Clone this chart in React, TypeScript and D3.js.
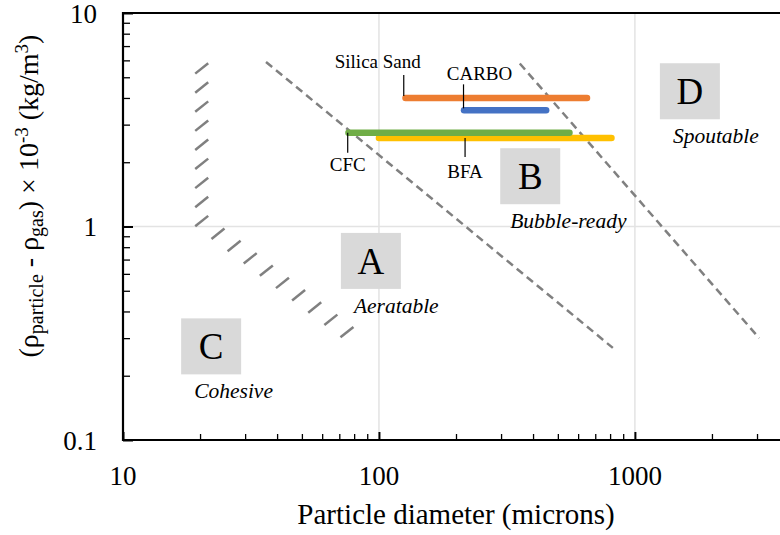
import React, { useRef, useEffect } from "react";
import * as d3 from "d3";

// Geldart-type powder classification map
const xTicks = [10, 100, 1000];
const yTicks = [0.1, 1, 10];

// particle ranges (microns) at a density difference
const materials = ["Silica Sand", "CARBO", "BFA", "CFC"];
const matStart = [127, 215, 100, 76];
const matEnd = [650, 450, 810, 555];
const matDensity = [4.0, 3.5, 2.6, 2.75];
const matColors = ["#ED7D31", "#4472C4", "#FFC000", "#70AD47"];
// where each leader line touches its bar
const matLabelX = [125, 214, 217, 75.5];

// dashed boundaries A/B and B/D
const boundaryAB = [[36.2, 5.9], [820, 0.27]];
const boundaryBD = [[355, 5.8], [3060, 0.3]];
// hatched C/A boundary: two straight runs
const hatchRuns = [
  { from: [20.3, 5.5], to: [20.3, 1.06], count: 9 },
  { from: [23.5, 0.925], to: [75, 0.32], count: 9 },
];

const groups = ["A", "B", "C", "D"];
const groupNames = ["Aeratable", "Bubble-ready", "Cohesive", "Spoutable"];
const groupX = [93, 390, 22.1, 1640];
const groupY = [0.69, 1.72, 0.2745, 4.3];

const App: React.FC = () => {
  const svgRef = useRef<SVGSVGElement>(null);
  const width = 780;
  const height = 535;

  useEffect(() => {
    if (!svgRef.current) return;
    const svg = d3.select(svgRef.current);
    svg.selectAll("*").remove();
    const margin = { top: 13, left: 123, bottom: 95 };

    const x = d3.scaleLog().domain([10, 4000]).range([margin.left, 789]);
    const y = d3.scaleLog().domain([0.1, 10]).range([height - margin.bottom, margin.top]);
    const [y0, y1] = y.range();

    // gridlines
    svg
      .append("g")
      .selectAll("line")
      .data([100, 1000])
      .enter()
      .append("line")
      .attr("x1", (d) => x(d))
      .attr("x2", (d) => x(d))
      .attr("y1", y0)
      .attr("y2", y1)
      .attr("stroke", "#e3e3e3")
      .attr("stroke-width", 1.5);
    svg
      .append("line")
      .attr("x1", x(10))
      .attr("x2", x(4000))
      .attr("y1", y(1))
      .attr("y2", y(1))
      .attr("stroke", "#e3e3e3")
      .attr("stroke-width", 1.5);

    // region boxes
    const boxW = 60;
    const boxH = 56;
    groups.forEach((g, i) => {
      const cx = x(groupX[i]);
      const cy = y(groupY[i]);
      svg
        .append("rect")
        .attr("x", cx - boxW / 2)
        .attr("y", cy - boxH / 2)
        .attr("width", boxW)
        .attr("height", boxH)
        .attr("fill", "#d9d9d9");
      svg
        .append("text")
        .attr("x", cx)
        .attr("y", cy + 13)
        .attr("text-anchor", "middle")
        .attr("font-size", 37)
        .text(g);
      svg
        .append("text")
        .attr("x", cx - boxW / 2 + (g === "B" ? 10 : 13))
        .attr("y", cy + 52)
        .attr("font-style", "italic")
        .attr("font-size", 21.5)
        .text(groupNames[i]);
    });

    // dashed boundaries
    const line = d3
      .line<number[]>()
      .x((d) => x(d[0]))
      .y((d) => y(d[1]));
    [boundaryAB, boundaryBD].forEach((b) => {
      svg
        .append("path")
        .attr("d", line(b))
        .attr("fill", "none")
        .attr("stroke", "#808080")
        .attr("stroke-width", 2.5)
        .attr("stroke-dasharray", "8,5");
    });

    // hatched boundary
    hatchRuns.forEach((r) => {
      const px0 = x(r.from[0]);
      const py0 = y(r.from[1]);
      const px1 = x(r.to[0]);
      const py1 = y(r.to[1]);
      d3.range(r.count).forEach((k) => {
        const t = k / (r.count - 1);
        const cx = px0 + (px1 - px0) * t;
        const cy = py0 + (py1 - py0) * t;
        svg
          .append("line")
          .attr("x1", cx - 6.5)
          .attr("y1", cy + 5.2)
          .attr("x2", cx + 6.5)
          .attr("y2", cy - 5.2)
          .attr("stroke", "#808080")
          .attr("stroke-width", 2.5);
      });
    });

    // material bars
    materials.forEach((m, i) => {
      svg
        .append("line")
        .attr("x1", x(matStart[i]))
        .attr("x2", x(matEnd[i]))
        .attr("y1", y(matDensity[i]))
        .attr("y2", y(matDensity[i]))
        .attr("stroke", matColors[i])
        .attr("stroke-width", 6.5)
        .attr("stroke-linecap", "round");
    });

    // leader lines + labels
    const leaders = [
      { len: -21, dx: -26, dy: -30 },
      { len: -24, dx: 16, dy: -30 },
      { len: 19, dx: 0, dy: 40 },
      { len: 20, dx: 0, dy: 38.5 },
    ];
    materials.forEach((m, i) => {
      const lx = x(matLabelX[i]);
      const ly = y(matDensity[i]) + (leaders[i].len < 0 ? -2 : 0);
      svg
        .append("line")
        .attr("x1", lx)
        .attr("x2", lx)
        .attr("y1", ly)
        .attr("y2", ly + leaders[i].len)
        .attr("stroke", "#000")
        .attr("stroke-width", 1.2);
      svg
        .append("text")
        .attr("x", lx + leaders[i].dx)
        .attr("y", y(matDensity[i]) + leaders[i].dy)
        .attr("text-anchor", "middle")
        .attr("font-size", 19)
        .text(m);
    });

    // axes
    const xAxis = d3
      .axisBottom(x)
      .tickValues(d3.range(1, 4).flatMap((e) => d3.range(1, 10).map((k) => k * 10 ** e)).filter((v) => v <= 4000))
      .tickSize(0)
      .tickFormat(() => "");
    const xg = svg.append("g").attr("transform", `translate(0,${y0})`).call(xAxis);
    xg.select(".domain").remove();
    xg.selectAll(".tick line").remove();
    xg.selectAll(".tick")
      .append("line")
      .attr("y1", 0)
      .attr("y2", (d: any) => (xTicks.includes(d) ? -8 : -6))
      .attr("stroke", "#000")
      .attr("stroke-width", (d: any) => (xTicks.includes(d) ? 2 : 1.3));

    const yAxis = d3
      .axisLeft(y)
      .tickValues(d3.range(-1, 1).flatMap((e) => d3.range(1, 10).map((k) => k * 10 ** e)).concat([10]))
      .tickSize(0)
      .tickFormat(() => "");
    const yg = svg.append("g").attr("transform", `translate(${x(10)},0)`).call(yAxis);
    yg.select(".domain").remove();
    yg.selectAll(".tick line").remove();
    yg.selectAll(".tick")
      .append("line")
      .attr("x1", 0)
      .attr("x2", (d: any) => (yTicks.some((t) => Math.abs(t - d) < 1e-9) ? 10 : 7))
      .attr("stroke", "#000")
      .attr("stroke-width", (d: any) => (yTicks.some((t) => Math.abs(t - d) < 1e-9) ? 2 : 1.3));

    // frame
    svg
      .append("path")
      .attr("d", `M${x(4000)},${y1}H${x(10)}V${y0}H${x(4000)}`)
      .attr("fill", "none")
      .attr("stroke", "#000")
      .attr("stroke-width", 2.2);

    // tick labels
    svg
      .selectAll(".xlab")
      .data(xTicks)
      .enter()
      .append("text")
      .attr("x", (d) => x(d))
      .attr("y", 485)
      .attr("text-anchor", "middle")
      .attr("font-size", 27)
      .text((d) => String(d));
    svg
      .selectAll(".ylab")
      .data(yTicks)
      .enter()
      .append("text")
      .attr("x", 97)
      .attr("y", (d) => y(d) + 9.5)
      .attr("text-anchor", "end")
      .attr("font-size", 27)
      .text((d) => String(d));

    // axis titles
    svg
      .append("text")
      .attr("x", 456)
      .attr("y", 524)
      .attr("text-anchor", "middle")
      .attr("font-size", 29)
      .text("Particle diameter (microns)");

    const yt = svg
      .append("text")
      .attr("transform", "translate(38,196) rotate(-90)")
      .attr("text-anchor", "middle")
      .attr("font-size", 28);
    const parts: [string, string][] = [
      ["(ρ", "n"],
      ["particle", "sub"],
      [" - ρ", "n"],
      ["gas", "sub"],
      [") × 10", "n"],
      ["-3", "sup"],
      [" (kg/m", "n"],
      ["3", "sup"],
      [")", "n"],
    ];
    parts.forEach(([t, k]) => {
      const ts = yt.append("tspan").text(t);
      if (k === "sub") ts.attr("font-size", 20).attr("baseline-shift", "-5");
      if (k === "sup") ts.attr("font-size", 19).attr("baseline-shift", "10");
    });
  }, []);

  return (
    <>
      <style>{"body{margin:0}"}</style>
      <svg
        ref={svgRef}
        width={width}
        height={height}
        style={{ display: "block", fontFamily: "Liberation Serif" }}
      ></svg>
    </>
  );
};

export default App;
